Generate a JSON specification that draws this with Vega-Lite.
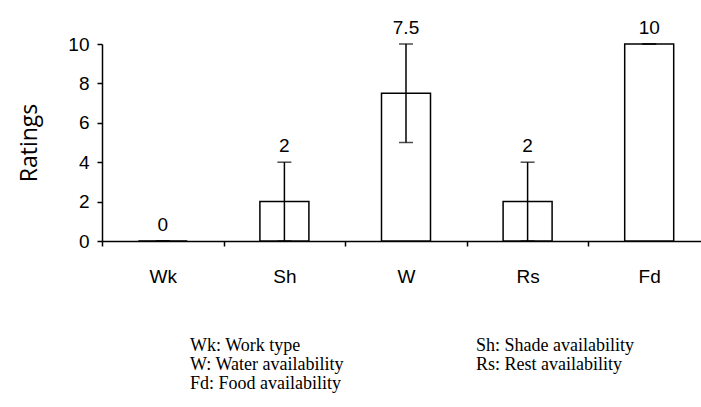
{
  "$schema": "https://vega.github.io/schema/vega-lite/v6.json",
  "padding": {"left": 18, "top": 19, "right": 0, "bottom": 0},
  "spacing": 50,
  "config": {
    "view": {"stroke": null},
    "font": "Liberation Sans",
    "axisY": {
      "labelFont": "Liberation Sans",
      "labelFontSize": 19,
      "labelColor": "black",
      "labelPadding": 8,
      "labelOverlap": false,
      "domainColor": "black",
      "domainWidth": 1.5,
      "tickColor": "black",
      "tickWidth": 1.5,
      "tickSize": 5,
      "grid": false,
      "titleFont": "Open Sans",
      "titleFontSize": 23,
      "titleFontWeight": "normal",
      "titleColor": "black",
      "titlePadding": 26
    }
  },
  "vconcat": [
    {
      "width": 608,
      "height": 197,
      "data": {
        "values": [
          {"cat": "Wk", "value": 0, "lo": 0, "hi": 0},
          {"cat": "Sh", "value": 2, "lo": 0, "hi": 4},
          {"cat": "W", "value": 7.5, "lo": 5, "hi": 10},
          {"cat": "Rs", "value": 2, "lo": 0, "hi": 4},
          {"cat": "Fd", "value": 10, "lo": 10, "hi": 10}
        ]
      },
      "encoding": {
        "x": {
          "field": "cat",
          "type": "nominal",
          "sort": null,
          "scale": {"paddingInner": 0, "paddingOuter": 0},
          "axis": {
            "title": null,
            "labelAngle": 0,
            "labelFont": "Liberation Sans",
            "labelFontSize": 19,
            "labelColor": "black",
            "labelPadding": 21,
            "domainColor": "black",
            "domainWidth": 1.5,
            "tickColor": "black",
            "tickWidth": 1.5,
            "tickSize": 5,
            "tickBand": "extent",
            "grid": false
          }
        }
      },
      "layer": [
        {
          "mark": {"type": "bar", "fill": "white", "stroke": "black", "strokeWidth": 1.5, "size": 49},
          "encoding": {
            "y": {
              "field": "value",
              "type": "quantitative",
              "scale": {"domain": [0, 10], "nice": false},
              "axis": {"title": "Ratings", "values": [0, 2, 4, 6, 8, 10]}
            }
          }
        },
        {
          "mark": {"type": "rule", "color": "black", "strokeWidth": 1.5},
          "encoding": {
            "y": {"field": "lo", "type": "quantitative", "axis": {"title": "Ratings", "values": [0, 2, 4, 6, 8, 10]}},
            "y2": {"field": "hi"}
          }
        },
        {
          "mark": {"type": "tick", "color": "black", "thickness": 1.5, "size": 14},
          "encoding": {"y": {"field": "hi", "type": "quantitative", "axis": {"title": "Ratings", "values": [0, 2, 4, 6, 8, 10]}}}
        },
        {
          "mark": {"type": "tick", "color": "black", "thickness": 1.5, "size": 14},
          "encoding": {"y": {"field": "lo", "type": "quantitative", "axis": {"title": "Ratings", "values": [0, 2, 4, 6, 8, 10]}}}
        },
        {
          "mark": {"type": "text", "font": "Liberation Sans", "fontSize": 19, "color": "black", "dy": -16, "baseline": "middle"},
          "encoding": {
            "y": {"field": "hi", "type": "quantitative", "axis": {"title": "Ratings", "values": [0, 2, 4, 6, 8, 10]}},
            "text": {"field": "value", "type": "quantitative"}
          }
        }
      ]
    },
    {
      "width": 608,
      "height": 57,
      "data": {
        "values": [
          {"col": 0, "row": 1, "label": "Wk: Work type"},
          {"col": 1, "row": 1, "label": "Sh: Shade availability"},
          {"col": 0, "row": 2, "label": "W: Water availability"},
          {"col": 1, "row": 2, "label": "Rs: Rest availability"},
          {"col": 0, "row": 3, "label": "Fd: Food availability"}
        ]
      },
      "mark": {"type": "text", "font": "Liberation Serif", "fontSize": 18, "color": "black", "align": "left", "baseline": "middle"},
      "encoding": {
        "x": {"field": "col", "type": "quantitative", "scale": {"domain": [0, 1], "range": [88, 374]}, "axis": null},
        "y": {"field": "row", "type": "ordinal", "axis": null},
        "text": {"field": "label"}
      }
    }
  ]
}
